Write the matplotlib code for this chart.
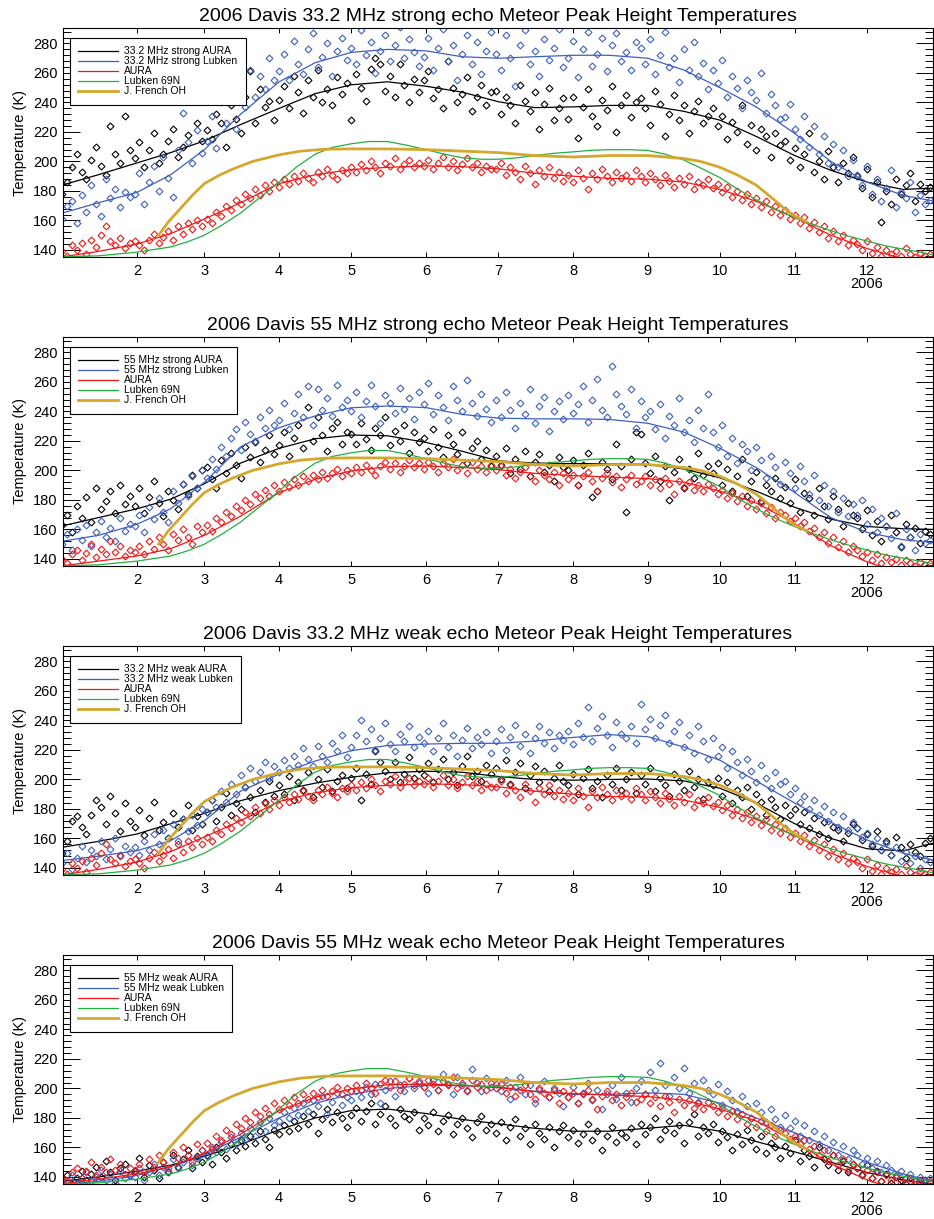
import numpy as np
import matplotlib
matplotlib.use("Agg")
import matplotlib.pyplot as plt

plt.rcParams["font.family"] = ["Liberation Sans", "DejaVu Sans"]

# ---- observation days (every second day of 2006) ----
obs_days = list(range(1, 362, 2))

# ---- 33.2 MHz strong echo ----
t332s_aura = [
    178, 186, 196, 205, 193, 188, 201, 210, 197, 191, 224, 205, 199, 231, 208,
    202, 213, 196, 208, 219, 199, 205, 214, 222, 203, 210, 218, 242, 226, 214,
    221, 215, 232, 226, 210, 238, 229, 219, 244, 261, 226, 249, 237, 241, 228,
    242, 251, 236, 258, 247, 233, 255, 244, 262, 240, 249, 238, 257, 246, 253,
    228, 259, 250, 241, 263, 270, 266, 248, 258, 244, 266, 252, 240, 256, 247,
    255, 261, 243, 249, 236, 268, 250, 240, 246, 257, 234, 244, 252, 238, 247,
    248, 232, 244, 238, 226, 252, 241, 234, 247, 222, 239, 250, 228, 236, 243,
    229, 244, 216, 237, 249, 231, 224, 242, 235, 251, 220, 238, 245, 230, 240,
    243, 236, 225, 248, 239, 217, 232, 245, 228, 238, 219, 234, 241, 226, 231,
    236, 224, 231, 215, 227, 220, 238, 212, 225, 208, 222, 217, 203, 219, 211,
    214, 201, 209, 196, 205, 219, 193, 200, 188, 207, 196, 186, 199, 192, 203,
    190, 182, 195, 176, 186, 159, 180, 171, 188, 178, 184, 192, 173, 185, 180,
    183]
t332s_lubken = [
    161, 170, 173, 158, 177, 166, 184, 171, 163, 188, 175, 181, 169, 179, 176,
    178, 192, 171, 186, 197, 180, 203, 189, 176, 208, 233, 213, 199, 221, 206,
    214, 231, 209, 240, 226, 248, 222, 253, 237, 262, 244, 258, 249, 270, 255,
    261, 273, 255, 282, 266, 259, 276, 287, 264, 271, 280, 258, 275, 284, 269,
    277, 266, 289, 272, 281, 260, 275, 286, 268, 279, 291, 270, 283, 274, 265,
    271, 284, 262, 277, 290, 268, 279, 255, 273, 286, 266, 281, 259, 275, 288,
    273, 262, 286, 270, 251, 279, 289, 266, 275, 258, 283, 269, 277, 290, 264,
    270, 282, 257, 276, 288, 265, 273, 284, 261, 279, 287, 268, 274, 262, 281,
    277, 266, 283, 259, 272, 288, 264, 270, 254, 276, 262, 281, 258, 267, 249,
    262, 253, 269, 244, 258, 250, 236, 255, 247, 242, 260, 233, 246, 238, 229,
    230, 239, 222, 215, 231, 210, 224, 205, 217, 199, 212, 196, 208, 190, 201,
    191, 184, 197, 178, 188, 173, 182, 194, 169, 179, 175, 186, 166, 177, 171,
    174]

# ---- 55 MHz strong echo ----
t55s_aura = [
    163, 170, 158, 176, 168, 182, 165, 188, 174, 179, 186, 171, 190, 177, 183,
    176, 188, 171, 182, 193, 178, 169, 186, 180, 174, 191, 184, 197, 188, 200,
    202, 194, 188, 207, 198, 212, 204, 195, 216, 209, 219, 206, 214, 224, 211,
    217, 226, 210, 222, 231, 215, 243, 220, 236, 224, 213, 229, 233, 218, 226,
    225, 218, 232, 221, 214, 229, 224, 236, 217, 227, 220, 231, 212, 226, 219,
    222, 213, 228, 216, 209, 224, 218, 211, 226, 205, 215, 220, 208, 214, 203,
    210, 204, 215, 198, 208, 201, 213, 196, 206, 211, 199, 204, 193, 209, 202,
    200, 207, 190, 204, 212, 182, 186, 206, 201, 194, 218, 203, 172, 208, 226,
    225, 205, 198, 210, 193, 203, 180, 199, 208, 188, 201, 195, 212, 197, 203,
    198, 205, 190, 201, 186, 196, 208, 183, 193, 199, 179, 190, 186, 195, 181,
    189, 178, 194, 172, 185, 181, 170, 188, 176, 167, 183, 174, 162, 178, 170,
    168, 160, 173, 156, 166, 152, 162, 170, 158, 148, 164, 155, 161, 151, 159,
    157]
t55s_lubken = [
    150, 157, 146, 160, 153, 163, 149, 158, 166, 155, 161, 152, 168, 159, 164,
    162, 170, 158, 175, 167, 181, 172, 165, 186, 178, 191, 183, 196, 188, 200,
    195, 208, 201, 216, 210, 222, 228, 214, 233, 225, 220, 236, 229, 241, 231,
    234, 246, 228, 239, 252, 236, 257, 231, 255, 241, 249, 237, 258, 243, 248,
    240, 253, 236, 247, 258, 244, 232, 251, 246, 239, 256, 242, 249, 235, 253,
    245, 259, 238, 251, 243, 234, 257, 248, 240, 261, 246, 237, 252, 242, 233,
    248, 236, 253, 241, 229, 246, 238, 255, 232, 244, 250, 227, 240, 247, 235,
    251, 239, 245, 257, 233, 248, 262, 241, 236, 271, 252, 244, 238, 255, 229,
    247, 236, 240, 228, 245, 222, 237, 231, 249, 226, 234, 219, 241, 229, 252,
    226, 216, 231, 210, 222, 205, 218, 213, 200, 216, 207, 195, 210, 202, 191,
    206, 198, 188, 203, 193, 184, 197, 180, 190, 176, 186, 172, 181, 169, 177,
    170, 180, 164, 174, 158, 168, 162, 154, 171, 149, 160, 155, 146, 157, 151,
    153]

# ---- 33.2 MHz weak echo ----
t332w_aura = [
    150, 158, 172, 175, 168, 163, 176, 186, 181, 170, 189, 177, 165, 184, 172,
    168, 179, 162, 174, 185, 166, 171, 160, 177, 168, 173, 183, 166, 175, 170,
    178, 186, 172, 181, 191, 176, 184, 180, 195, 188, 178, 193, 185, 199, 189,
    196, 190, 202, 186, 198, 193, 205, 188, 200, 195, 207, 192, 199, 203, 194,
    201, 208, 186, 204, 197, 219, 212, 206, 200, 212, 198, 204, 215, 201, 207,
    203, 211, 198, 207, 214, 200, 205, 196, 209, 216, 202, 206, 199, 210, 204,
    208, 200, 213, 197, 205, 211, 194, 203, 209, 198, 206, 192, 201, 210, 199,
    196, 204, 190, 201, 207, 194, 199, 188, 203, 197, 208, 193, 200, 205, 191,
    203, 197, 208, 192, 201, 196, 189, 204, 199, 193, 206, 195, 200, 187, 198,
    196, 201, 189, 198, 184, 193, 188, 195, 180, 190, 185, 176, 187, 181, 173,
    183, 176, 180, 170, 178, 167, 174, 163, 171, 160, 168, 166, 158, 164, 170,
    167, 159, 163, 155, 165, 152, 158, 149, 161, 154, 147, 156, 151, 148, 157,
    160]
t332w_lubken = [
    143, 150, 139, 147, 155, 144, 152, 148, 158, 146, 153, 160, 149, 155, 151,
    154, 149, 158, 152, 163, 156, 166, 160, 170, 158, 173, 165, 176, 169, 180,
    178, 186, 181, 192, 185, 197, 190, 203, 195, 208, 199, 205, 212, 201, 209,
    205, 213, 208, 216, 210, 221, 214, 209, 223, 216, 212, 225, 219, 230, 215,
    222, 230, 240, 226, 234, 220, 228, 238, 224, 219, 231, 226, 236, 222, 229,
    225, 233, 219, 228, 238, 222, 230, 216, 227, 235, 221, 229, 224, 232, 218,
    226, 234, 220, 229, 237, 223, 231, 218, 228, 236, 225, 232, 221, 230, 227,
    233, 224, 238, 229, 249, 226, 235, 243, 230, 222, 239, 231, 228, 236, 225,
    251, 234, 241, 228, 237, 244, 225, 233, 239, 222, 230, 218, 236, 226, 214,
    228, 216, 222, 208, 219, 212, 203, 214, 206, 198, 210, 201, 194, 205, 197,
    199, 190, 194, 185, 189, 180, 186, 176, 182, 172, 178, 168, 175, 166, 171,
    167, 161, 164, 156, 160, 152, 157, 149, 154, 145, 151, 143, 148, 140, 146,
    144]

# ---- 55 MHz weak echo ----
t55w_aura = [
    137, 141, 135, 139, 144, 138, 142, 147, 140, 151, 143, 138, 146, 149, 141,
    144, 153, 140, 148, 145, 139, 150, 143, 155, 147, 152, 158, 146, 154, 150,
    155, 149, 160, 157, 153, 162, 158, 165, 161, 168, 163, 171, 166, 160, 172,
    169, 175, 171, 178, 173, 181, 176, 183, 170, 179, 186, 177, 184, 180, 174,
    182, 187, 178, 185, 190, 176, 183, 188, 180, 175, 186, 181, 179, 184, 172,
    180, 175, 184, 171, 178, 182, 169, 176, 180, 173, 167, 177, 181, 172, 176,
    170, 177, 165, 174, 179, 168, 173, 162, 176, 170, 166, 174, 160, 171, 175,
    167, 172, 163, 169, 176, 165, 171, 158, 168, 174, 164, 170, 167, 173, 162,
    176, 169, 174, 180, 166, 172, 178, 170, 175, 163, 177, 183, 168, 174, 170,
    176, 164, 171, 167, 158, 169, 162, 172, 165, 159, 168, 156, 163, 160, 153,
    161, 156, 165, 151, 158, 154, 147, 160, 152, 148, 155, 145, 151, 143, 149,
    146, 141, 148, 139, 144, 137, 142, 136, 140, 138, 135, 139, 137, 136, 138,
    136]
t55w_lubken = [
    135, 138, 141, 136, 139, 143, 137, 140, 145, 138, 142, 136, 144, 139, 141,
    140, 146, 138, 143, 149, 141, 147, 144, 152, 146, 150, 155, 148, 153, 158,
    154, 160, 157, 164, 159, 167, 162, 170, 165, 173, 168, 177, 171, 180, 175,
    178, 184, 180, 187, 182, 190, 185, 192, 188, 195, 183, 191, 197, 189, 194,
    192, 198, 194, 201, 196, 203, 190, 199, 205, 195, 202, 198, 207, 200, 204,
    201, 197, 206, 199, 210, 203, 196, 208, 202, 199, 213, 204, 198, 207, 201,
    203, 198, 206, 193, 201, 208, 196, 202, 190, 199, 205, 194, 200, 197, 188,
    194, 201, 190, 197, 204, 192, 199, 186, 196, 202, 193, 208, 197, 191, 200,
    205, 196, 211, 199, 217, 202, 195, 208, 200, 214, 197, 204, 191, 206, 199,
    196, 203, 189, 198, 192, 185, 195, 188, 180, 190, 184, 177, 186, 179, 174,
    182, 173, 178, 168, 175, 165, 171, 162, 168, 158, 164, 155, 161, 152, 158,
    155, 149, 153, 146, 151, 143, 148, 145, 141, 144, 139, 142, 137, 140, 138,
    139]

# ---- AURA temperatures on the meteor days of each radar ----
aura_332 = [
    139, 136, 143, 140, 145, 137, 147, 142, 150, 156, 146, 143, 148, 141, 145,
    146, 143, 140, 147, 151, 145, 149, 153, 147, 156, 151, 158, 154, 160, 156,
    161, 158, 166, 163, 170, 167, 174, 171, 178, 175, 181, 177, 184, 180, 186,
    183, 188, 185, 190, 187, 192, 189, 186, 193, 190, 195, 191, 188, 194, 192,
    196, 193, 198, 194, 200, 196, 192, 199, 197, 202, 195, 198, 201, 196, 199,
    197, 201, 195, 199, 203, 196, 200, 194, 198, 202, 196, 199, 193, 197, 195,
    195, 199, 191, 196, 193, 188, 197, 192, 185, 194, 190, 196, 189, 193, 187,
    191, 186, 194, 189, 181, 192, 188, 195, 190, 186, 193, 189, 191, 187, 194,
    190, 186, 192, 188, 184, 191, 187, 183, 189, 185, 190, 181, 186, 184, 188,
    182, 185, 179, 183, 176, 180, 174, 178, 171, 175, 169, 173, 166, 170, 164,
    167, 161, 164, 158, 162, 155, 159, 152, 156, 148, 153, 146, 150, 143, 147,
    144, 140, 146, 138, 142, 136, 140, 137, 139, 136, 141, 137, 135, 138, 136,
    137]
aura_55 = [
    140, 137, 143, 146, 139, 144, 150, 141, 147, 143, 152, 145, 149, 142, 146,
    145, 149, 143, 152, 147, 155, 150, 146, 157, 153, 160, 155, 150, 162, 158,
    163, 159, 168, 165, 172, 169, 176, 173, 180, 177, 184, 181, 187, 183, 190,
    186, 192, 189, 194, 190, 196, 193, 197, 194, 199, 195, 198, 201, 196, 200,
    198, 202, 199, 204, 200, 197, 203, 206, 201, 205, 199, 203, 207, 202, 205,
    201, 206, 203, 199, 205, 202, 208, 200, 204, 198, 206, 201, 203, 199, 204,
    200, 203, 197, 201, 195, 199, 202, 196, 193, 200, 197, 194, 199, 190, 198,
    194, 197, 190, 196, 199, 193, 186, 195, 198, 192, 196, 189, 194, 197, 191,
    193, 196, 190, 194, 188, 195, 191, 184, 193, 189, 192, 187, 190, 186, 191,
    188, 184, 187, 181, 185, 179, 183, 176, 180, 174, 178, 171, 175, 168, 172,
    170, 166, 168, 162, 165, 159, 161, 155, 158, 151, 155, 148, 152, 145, 149,
    146, 142, 145, 139, 143, 137, 141, 138, 140, 136, 139, 137, 135, 138, 136,
    137]

# ---- smoothed curves ----
fit_days = [1, 16, 32, 46, 60, 75, 91, 106, 121, 136, 152, 167, 182,
            197, 213, 228, 244, 259, 274, 289, 305, 320, 335, 350, 363]
fit_332s_aura = [184, 191, 199, 206, 214, 225, 236, 246, 252, 254, 251, 247, 240.5,
                 236.5, 237, 238, 238, 234, 228, 217, 204, 194, 186, 181, 182]
fit_332s_lubken = [165, 172, 179, 191, 208, 232, 254, 267, 274, 276, 275, 271, 270,
                   271, 272, 272, 270, 262, 250, 237, 219, 200, 186, 177, 173]
fit_55s_aura = [162.4, 168, 174, 180.5, 191, 205, 215, 221.5, 224, 223.5, 219, 213, 206.5,
                205, 204.6, 204.6, 204, 201, 195, 186, 175, 167, 162, 160.5, 160]
fit_55s_lubken = [152, 156, 163.5, 174, 192, 216, 229, 237, 242.5, 243.7, 242.6, 238, 235.5,
                  235, 235, 234.6, 232, 226, 215, 202, 185, 168, 158, 153, 151]
fit_332w_aura = [154, 158, 163, 170, 177, 185.6, 192.4, 197.5, 201.5, 204.5, 205.6, 204.9, 202,
                 200, 199.5, 200, 200.3, 199, 194, 184, 170, 160, 153, 151.5, 157]
fit_332w_lubken = [145, 148, 151.7, 158.5, 172, 192, 203.7, 212.5, 219.5, 223, 224, 224.5, 224.5,
                   226, 228.5, 230.4, 229, 222, 213, 199, 184, 171, 159, 150, 145]
fit_55w_aura = [137, 140, 144, 148, 154, 162, 172, 180, 185, 186, 183, 179, 176,
                173, 171, 171, 173, 175, 171, 164, 157, 150, 143, 138, 135]
fit_55w_lubken = [135, 137, 141, 147, 155, 167, 180, 190, 196, 200, 202, 202, 201,
                  198, 196, 196, 197, 196, 190, 180, 170, 160, 150, 142, 137]
fit_aura_332 = [135.3, 139, 144, 151, 161, 172, 185, 191, 194.5, 196, 197, 196.5, 195,
                192, 190, 188.5, 188, 186, 181, 173, 162, 150, 141, 134, 130]
fit_aura_55 = [135.3, 138.5, 142, 147, 156, 169, 185, 194, 199.7, 202.5, 203, 202, 200.5,
               198, 196.5, 195.5, 194.5, 192, 186, 178, 164, 149, 138, 130, 126]

# Lubken 69N climatology
lubken_days = [1, 16, 32, 46, 53, 60, 67, 75, 83, 91, 98, 106, 113, 121, 128, 136,
               144, 152, 160, 167, 175, 182, 190, 197, 205, 213, 220, 228, 236, 244,
               251, 259, 266, 274, 281, 289, 297, 305, 312, 320, 327, 335, 342, 350,
               357, 363]
lubken69n = [135.3, 136, 138.5, 142, 145.5, 150, 156.5, 165, 175.5, 186, 196, 205,
             209.5, 212, 213.5, 213.5, 211, 208, 204.8, 202.5, 201.5, 201.5, 202.5,
             204, 205.5, 206.5, 207.5, 208, 208, 207.5, 205, 201, 195.5, 189, 181.5,
             174, 167.5, 162, 157.5, 153, 149.5, 146, 143, 140.5, 138.5, 136.5]

# J. French OH rotational temperatures
french_days = [41, 45, 50, 55, 60, 66, 72, 80, 91, 100, 110, 121, 136, 152, 167,
               182, 197, 213, 228, 244, 259, 266, 274, 281, 289, 295, 300, 305, 310]
french_oh = [150, 159, 168, 177, 185, 190.5, 195, 200, 204.5, 207, 208.3, 208.5,
             208.5, 208, 207, 206, 204, 203, 204, 204, 202, 200, 196, 191, 184,
             176, 169, 163, 159]

month_days = [32, 60, 91, 121, 152, 182, 213, 244, 274, 305, 335]
month_labels = ["2", "3", "4", "5", "6", "7", "8", "9", "10", "11", "12\n2006"]

panels = [
    ("33.2 MHz strong", t332s_aura, t332s_lubken, aura_332,
     fit_332s_aura, fit_332s_lubken, fit_aura_332),
    ("55 MHz strong", t55s_aura, t55s_lubken, aura_55,
     fit_55s_aura, fit_55s_lubken, fit_aura_55),
    ("33.2 MHz weak", t332w_aura, t332w_lubken, aura_332,
     fit_332w_aura, fit_332w_lubken, fit_aura_332),
    ("55 MHz weak", t55w_aura, t55w_lubken, aura_55,
     fit_55w_aura, fit_55w_lubken, fit_aura_55),
]

BLACK = "#000000"
BLUE = "#3f5fbf"
RED = "#f01818"
GREEN = "#22b040"
GOLD = "#d4a82c"

W, H = 934, 1219
fig = plt.figure(figsize=(W / 100, H / 100), dpi=100)

tops = [28, 337, 646, 955]
for top, (name, s_aura, s_lub, s_ref, f_aura, f_lub, f_ref) in zip(tops, panels):
    ax = fig.add_axes([63 / W, 1 - (top + 229) / H, 870 / W, 229 / H])
    mk = dict(marker="D", ms=3.5, mfc="none", mew=0.8, ls="none")
    ax.plot(obs_days, s_aura, color=BLACK, **mk)
    ax.plot(fit_days, f_aura, color=BLACK, lw=0.9, label=f"{name} AURA")
    ax.plot(obs_days, s_lub, color=BLUE, **mk)
    ax.plot(fit_days, f_lub, color=BLUE, lw=0.9, label=f"{name} Lubken")
    ax.plot(obs_days, s_ref, color=RED, **mk)
    ax.plot(fit_days, f_ref, color=RED, lw=0.9, label="AURA")
    ax.plot(lubken_days, lubken69n, color=GREEN, lw=0.9, label="Lubken 69N")
    ax.plot(french_days, french_oh, color=GOLD, lw=2.0, label="J. French OH")

    ax.set_xlim(1.3, 362.4)
    ax.set_ylim(135.2, 290.5)
    ax.set_xticks(month_days)
    ax.set_xticklabels(month_labels)
    for lbl in ax.get_xticklabels():
        lbl.set_linespacing(0.95)
    ax.set_yticks(range(140, 281, 20))
    ax.set_yticks(range(136, 290, 4), minor=True)
    ax.tick_params(axis="x", which="major", direction="in", top=True, bottom=True,
                   length=3.6, width=0.7, labelsize=10.5, pad=5)
    ax.tick_params(axis="y", which="major", direction="in", left=True, right=True,
                   length=12, width=0.7, labelsize=10.5, pad=4)
    ax.tick_params(axis="y", which="minor", direction="in", left=True, right=True,
                   length=5.8, width=0.7)
    for sp in ax.spines.values():
        sp.set_linewidth(0.8)
    ax.set_ylabel("Temperature (K)", fontsize=10.5, labelpad=4)
    ax.set_title(f"2006 Davis {name} echo Meteor Peak Height Temperatures",
                 fontsize=14, pad=5)
    leg = ax.legend(loc="upper left", bbox_to_anchor=(0.008, 0.956), borderaxespad=0,
                    fontsize=7.5, handlelength=3.8, handletextpad=0.6, labelspacing=0.0,
                    borderpad=0.8, fancybox=False, framealpha=1)
    leg.get_frame().set_edgecolor("black")
    leg.get_frame().set_linewidth(0.8)

fig.savefig("out.png", dpi=100)
